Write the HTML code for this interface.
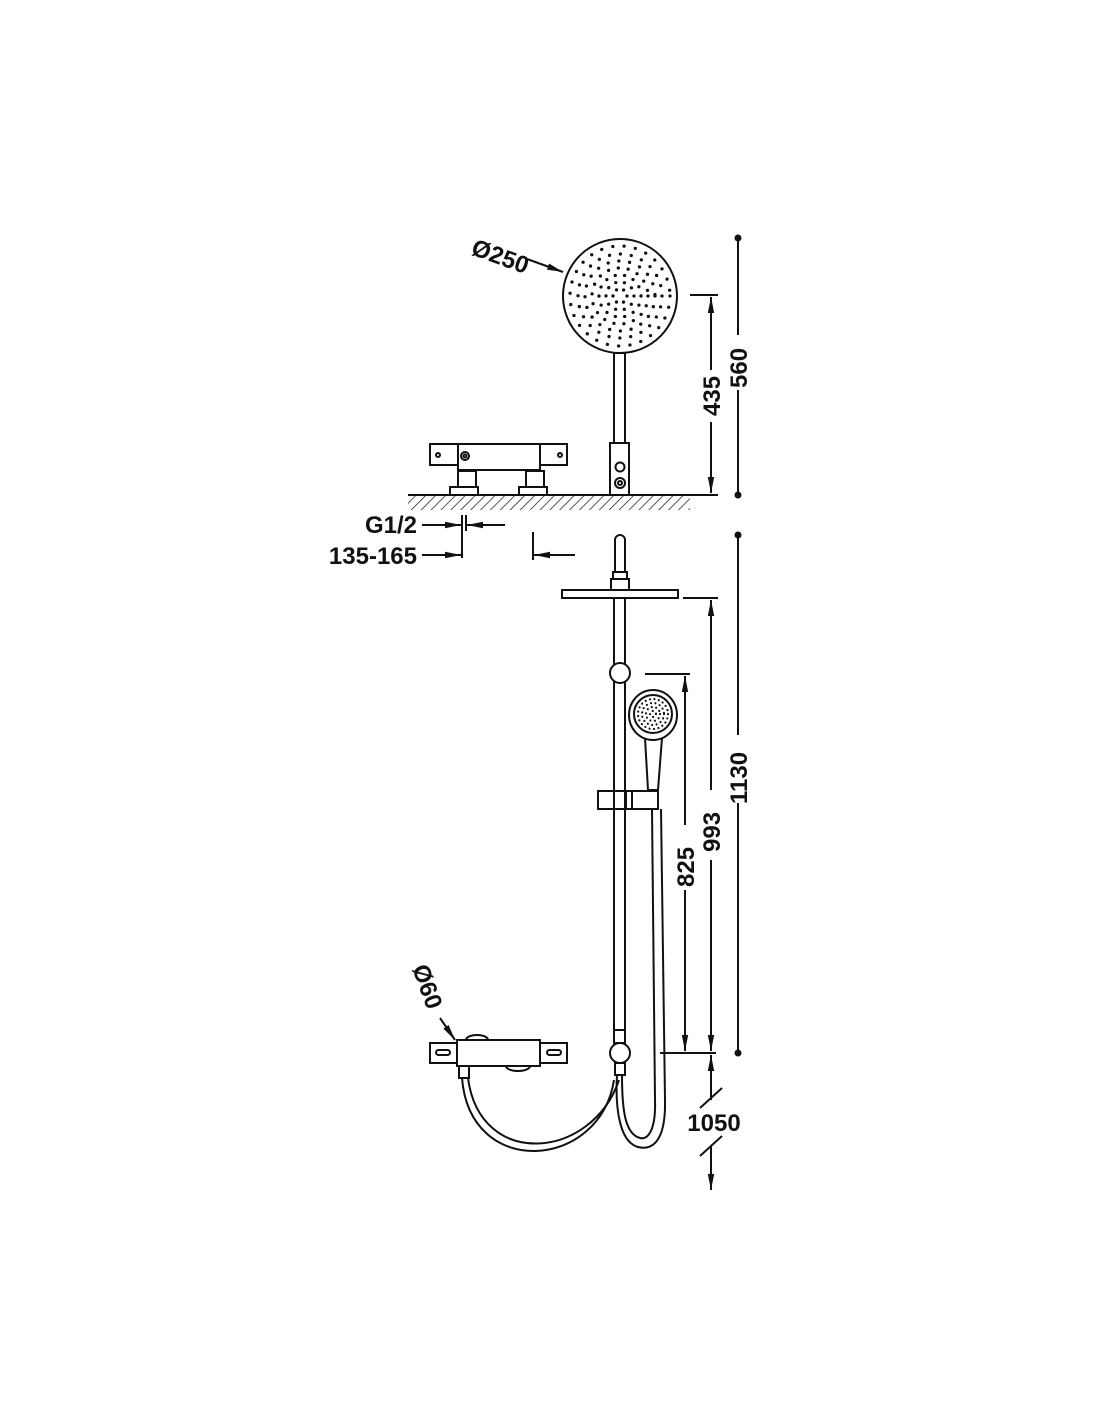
<!DOCTYPE html>
<html><head><meta charset="utf-8"><style>
html,body{margin:0;padding:0;background:#fff}
svg{display:block}
text{font-family:"Liberation Sans",Arial,sans-serif;font-weight:bold;font-size:24px;fill:#111}
</style></head><body>
<svg width="1100" height="1422" viewBox="0 0 1100 1422" xmlns="http://www.w3.org/2000/svg">
<defs>
<pattern id="h" width="7" height="7" patternUnits="userSpaceOnUse" patternTransform="rotate(45)">
<line x1="0" y1="0" x2="0" y2="7" stroke="#222" stroke-width="1.5"/>
</pattern>
<marker id="a" viewBox="0 0 16 8" refX="16" refY="4" markerWidth="16" markerHeight="8" orient="auto-start-reverse" markerUnits="userSpaceOnUse">
<path d="M0,0.8 L16,4 L0,7.2 z" fill="#111"/>
</marker>
</defs>
<g fill="none" stroke="#111" stroke-width="2">
<!-- TOP VIEW -->
<rect x="408" y="496" width="282" height="14" fill="url(#h)" stroke="none"/>
<line x1="408" y1="495" x2="690" y2="495"/>
<circle cx="620" cy="296" r="57"/>
<g stroke-width="3.3" stroke-linecap="round">
<circle cx="620" cy="296" r="7" stroke-dasharray="0 7.3"/>
<circle cx="620" cy="296" r="14" stroke-dasharray="0 8.8"/>
<circle cx="620" cy="296" r="21" stroke-dasharray="0 9.4"/>
<circle cx="620" cy="296" r="28" stroke-dasharray="0 10"/>
<circle cx="620" cy="296" r="35" stroke-dasharray="0 10.9"/>
<circle cx="620" cy="296" r="42" stroke-dasharray="0 11"/>
<circle cx="620" cy="296" r="50" stroke-dasharray="0 11.4"/>
</g>
<rect x="614" y="353" width="11" height="90"/>
<rect x="610" y="443" width="19" height="52"/>
<circle cx="620" cy="467" r="4.5"/>
<circle cx="620" cy="483" r="5"/><circle cx="620" cy="483" r="2"/>
<!-- mixer top -->
<rect x="430" y="444" width="28" height="21"/>
<rect x="540" y="444" width="27" height="21"/>
<rect x="458" y="444" width="82" height="26"/>
<circle cx="438" cy="455" r="2"/><circle cx="560" cy="455" r="2"/>
<circle cx="465" cy="456" r="4"/><circle cx="465" cy="456" r="1.5"/>
<rect x="458" y="471" width="18" height="16"/>
<rect x="526" y="471" width="18" height="16"/>
<rect x="450" y="487" width="28" height="8"/>
<rect x="519" y="487" width="28" height="8"/>
<!-- dims top -->
<line x1="690" y1="295" x2="718" y2="295"/>
<line x1="690" y1="495" x2="718" y2="495"/>
<line x1="711" y1="297" x2="711" y2="370" marker-start="url(#a)"/>
<line x1="711" y1="422" x2="711" y2="493" marker-end="url(#a)"/>
<line x1="738" y1="238" x2="738" y2="335"/>
<line x1="738" y1="390" x2="738" y2="495"/>
<line x1="527" y1="259" x2="563" y2="272" marker-end="url(#a)"/>
<!-- G1/2 and 135-165 -->
<line x1="462" y1="515" x2="462" y2="558"/>
<line x1="466" y1="515" x2="466" y2="531"/>
<line x1="422" y1="525" x2="461" y2="525" marker-end="url(#a)"/>
<line x1="505" y1="525" x2="467" y2="525" marker-end="url(#a)"/>
<line x1="422" y1="555" x2="461" y2="555" marker-end="url(#a)"/>
<line x1="533" y1="532" x2="533" y2="560"/>
<line x1="575" y1="555" x2="534" y2="555" marker-end="url(#a)"/>
<!-- BOTTOM VIEW -->
<path d="M615,572 V540 a5,5 0 0 1 10,0 V572"/>
<rect x="613" y="572" width="14" height="7"/>
<rect x="611" y="579" width="18" height="11"/>
<rect x="562" y="590" width="116" height="8"/>
<line x1="614" y1="598" x2="614" y2="1043"/>
<line x1="625" y1="598" x2="625" y2="1043"/>
<circle cx="620" cy="673" r="10" fill="#fff"/>
<!-- hand shower -->
<ellipse cx="653" cy="715" rx="24" ry="25"/>
<ellipse cx="653" cy="714" rx="19" ry="19"/>
<g stroke-width="2.2" stroke-linecap="round">
<circle cx="653" cy="714" r="3" stroke-dasharray="0 4.5"/>
<circle cx="653" cy="714" r="7" stroke-dasharray="0 4.5"/>
<circle cx="653" cy="714" r="11" stroke-dasharray="0 4.5"/>
<circle cx="653" cy="714" r="15" stroke-dasharray="0 4.5"/>
</g>
<path d="M645,738 L648,790 H658 L662,738"/>
<!-- holder -->
<rect x="598" y="791" width="28" height="18"/>
<rect x="632" y="791" width="26" height="18"/>
<path d="M626,791 h6 M626,809 h6"/>
<!-- hand hose -->
<path d="M652,809 L655,1100 C656,1130 648,1140 640,1138 C625,1134 622,1110 622,1075"/>
<path d="M661,809 L665,1100 C666,1145 650,1150 638,1147 C620,1142 615,1110 617,1075"/>
<!-- bottom connectors -->
<rect x="614" y="1030" width="11" height="13"/>
<circle cx="620" cy="1053" r="10" fill="#fff"/>
<rect x="615" y="1063" width="10" height="12"/>
<!-- mixer -->
<rect x="430" y="1043" width="137" height="20"/>
<rect x="457" y="1040" width="83" height="26" fill="#fff"/>
<path d="M466,1040 a11,5 0 0 1 22,0"/>
<path d="M506,1066 a12,5 0 0 0 24,0"/>
<rect x="436" y="1050" width="14" height="5" rx="2.5"/>
<rect x="547" y="1050" width="14" height="5" rx="2.5"/>
<rect x="459" y="1066" width="10" height="12"/>
<!-- main hose -->
<path d="M462,1078 C470,1180 600,1170 614,1080"/>
<path d="M468,1078 C480,1170 592,1160 619,1080"/>
<!-- Ø60 arrow -->
<line x1="440" y1="1018" x2="455" y2="1040" marker-end="url(#a)"/>
<!-- dims bottom -->
<line x1="645" y1="674" x2="690" y2="674"/>
<line x1="685" y1="676" x2="685" y2="825" marker-start="url(#a)"/>
<line x1="685" y1="890" x2="685" y2="1051" marker-end="url(#a)"/>
<line x1="683" y1="598" x2="718" y2="598"/>
<line x1="711" y1="600" x2="711" y2="790" marker-start="url(#a)"/>
<line x1="711" y1="860" x2="711" y2="1051" marker-end="url(#a)"/>
<line x1="660" y1="1053" x2="716" y2="1053"/>
<line x1="738" y1="535" x2="738" y2="735"/>
<line x1="738" y1="803" x2="738" y2="1053"/>
<line x1="711" y1="1055" x2="711" y2="1100" marker-start="url(#a)"/>
<line x1="711" y1="1146" x2="711" y2="1190" marker-end="url(#a)"/>
<line x1="700" y1="1108" x2="722" y2="1088"/>
<line x1="700" y1="1156" x2="722" y2="1136"/>
</g>
<g fill="#111">
<circle cx="738" cy="238" r="3.5"/><circle cx="738" cy="495" r="3.5"/>
<circle cx="738" cy="535" r="3.5"/><circle cx="738" cy="1053" r="3.5"/>
</g>
<text transform="translate(470,254) rotate(20)">Ø250</text>
<text transform="translate(720,416) rotate(-90)">435</text>
<text transform="translate(747,388) rotate(-90)">560</text>
<text x="417" y="533" text-anchor="end">G1/2</text>
<text x="417" y="564" text-anchor="end">135-165</text>
<text transform="translate(694,887) rotate(-90)">825</text>
<text transform="translate(720,852) rotate(-90)">993</text>
<text transform="translate(747,804) rotate(-90)">1130</text>
<text transform="translate(412,968) rotate(70)">Ø60</text>
<text x="714" y="1131" text-anchor="middle">1050</text>
</svg>
</body></html>
